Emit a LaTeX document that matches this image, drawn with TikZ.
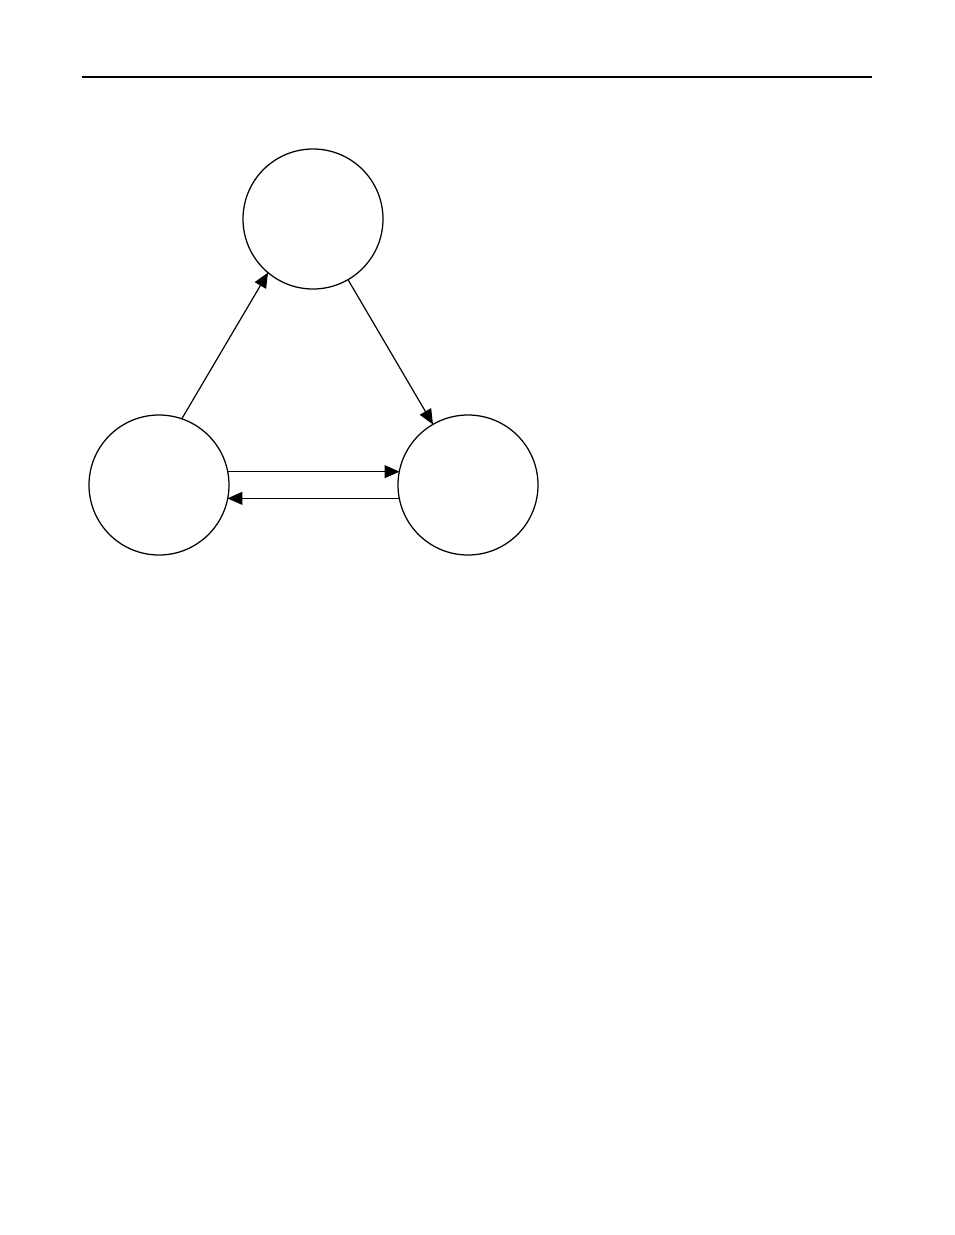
\documentclass[tikz,border=0pt]{standalone}
\usetikzlibrary{arrows.meta}

\begin{document}
\begin{tikzpicture}
[every node/.style={inner sep=0pt, outer sep=0pt},
 state/.style={circle, minimum size=140pt, line width=1.25pt, draw=black},
 edge/.style={line width=1.2pt, -{Triangle[length=15pt, width=13pt]}, color=black}]
\useasboundingbox (0pt, 0pt) rectangle (954pt, -1235pt);
\draw [line width=1.5pt, color=black] (82pt, -77pt) -- (872pt, -77pt);
\node (top) [state] at (313.0pt, -219.0pt) {};
\node (left) [state] at (159.0pt, -485.0pt) {};
\node (right) [state] at (468.0pt, -485.0pt) {};
\draw [edge] (left.71) to  (top.230);
\draw [edge] (top.300) to  (right.120);
\draw [edge] (left.11.5) to  (right.168.5 |- left.11.5);
\draw [edge] (right.191.5) to  (left.348.5 |- right.191.5);


\end{tikzpicture}
\end{document}
